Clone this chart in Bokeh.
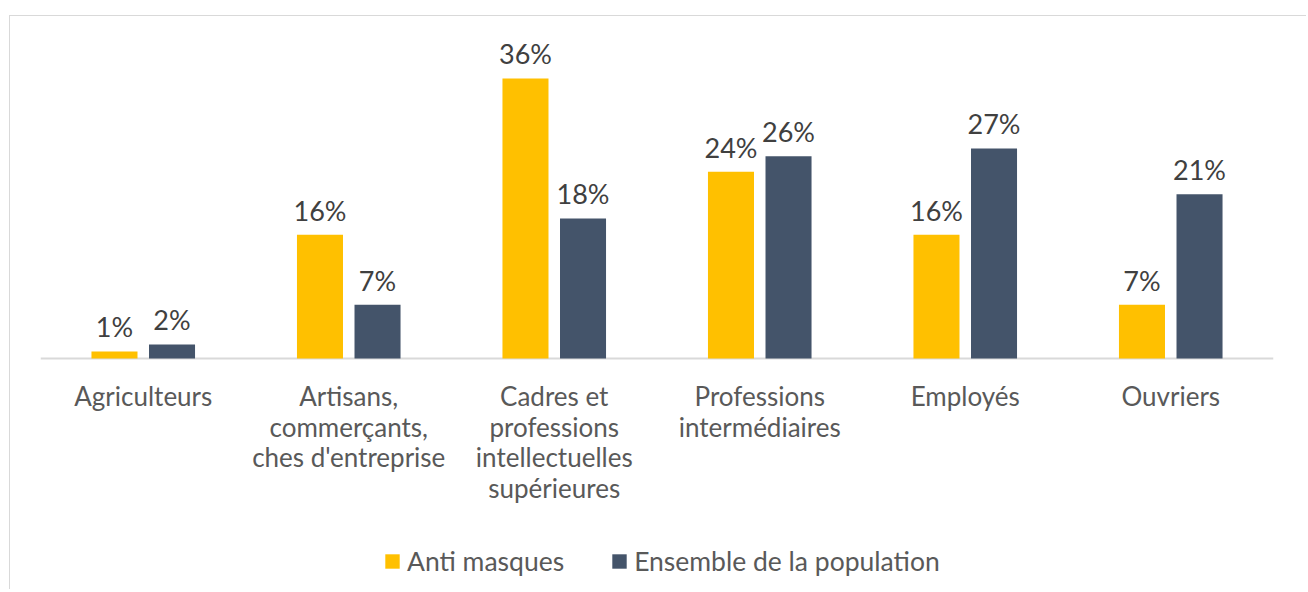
from bokeh.plotting import figure
from bokeh.models import ColumnDataSource, FactorRange, Range1d, Legend, LegendItem, LabelSet, Span
from bokeh.transform import dodge
from bokeh.core.properties import value
from bokeh.embed import file_html
from bokeh.resources import INLINE

categories = [
    "Agriculteurs",
    "Artisans,\ncommerçants,\nches d'entreprise",
    "Cadres et\nprofessions\nintellectuelles\nsupérieures",
    "Professions\nintermédiaires",
    "Employés",
    "Ouvriers",
]
anti_masques = [0.9, 15.9, 36, 24, 15.9, 6.9]
ensemble = [1.8, 6.9, 18, 26, 27, 21.1]
series_names = ["Anti masques", "Ensemble de la population"]
colors = ["#FFC000", "#44546A"]

src = ColumnDataSource(dict(
    cat=categories,
    a=anti_masques,
    b=ensemble,
    la=[f"{round(v)}%" for v in anti_masques],
    lb=[f"{round(v)}%" for v in ensemble],
))

p = figure(
    x_range=FactorRange(factors=categories, range_padding=0),
    y_range=Range1d(-29.05, 42.16),
    frame_width=1233, frame_height=554,
    output_backend="svg", toolbar_location=None,
    min_border_left=30, min_border_right=33, min_border_top=14, min_border_bottom=5,
)
p.margin = (15, 0, 0, 9)
p.styles = {"border-top": "1px solid #D9D9D9", "border-left": "1px solid #D9D9D9"}
p.outline_line_color = None
p.xgrid.grid_line_color = None
p.ygrid.grid_line_color = None
p.xaxis.visible = False
p.yaxis.visible = False

# baseline (category axis line)
p.add_layout(Span(location=0, dimension="width", line_color="#D9D9D9", line_width=2, level="underlay"))

r1 = p.vbar(x=dodge("cat", -0.14, range=p.x_range), top="a", width=0.224, source=src,
            fill_color=colors[0], line_color=None)
r2 = p.vbar(x=dodge("cat", 0.14, range=p.x_range), top="b", width=0.224, source=src,
            fill_color=colors[1], line_color=None)

for col, lab, off in (("a", "la", -0.14), ("b", "lb", 0.14)):
    ls = LabelSet(x=dodge("cat", off, range=p.x_range), y=col, text=lab, source=src,
                  text_align="center", text_baseline="alphabetic", y_offset=14,
                  text_font=value("Lato"), text_font_size=value("27px"), text_color="#404040")
    p.add_layout(ls)

# category labels under the baseline
p.text(x="cat", y=0, text="cat", source=src, text_align="center", text_baseline="top",
       y_offset=22, text_font=value("Lato"), text_font_size=value("26px"),
       text_color="#595959", text_line_height=0.95)

legend = Legend(
    items=[LegendItem(label=series_names[0], renderers=[r1]),
           LegendItem(label=series_names[1], renderers=[r2])],
    orientation="horizontal", location=(343, 7),
    padding=0, margin=0, spacing=46, label_standoff=6,
    glyph_width=18, glyph_height=18, label_height=24,
    label_text_font="Lato", label_text_font_size="26.5px", label_text_color="#595959",
    border_line_color=None, background_fill_alpha=0,
)
p.add_layout(legend, "center")

open("out.html", "w").write(file_html(p, INLINE))
